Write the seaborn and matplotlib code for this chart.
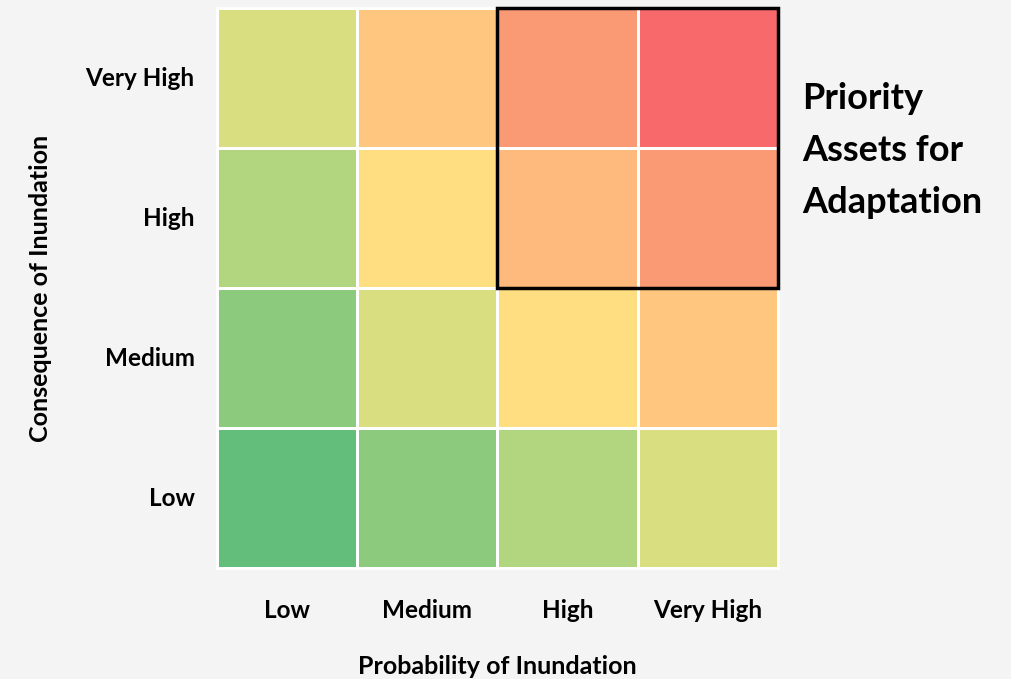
import numpy as np
import matplotlib.pyplot as plt
import seaborn as sns
from matplotlib.colors import ListedColormap, BoundaryNorm
from matplotlib.patches import Rectangle

# rows top to bottom, columns left to right
consequence = ["Very High", "High", "Medium", "Low"]
probability = ["Low", "Medium", "High", "Very High"]
consequence_score = [4, 3, 2, 1]
probability_score = [1, 2, 3, 4]

# risk score -> cell colour (green-yellow-red scale)
score_levels = [1, 2, 3, 4, 6, 8, 9, 12, 16]
score_colors = ["#63BE7B", "#8CCA7E", "#B2D580", "#D9DF81", "#FFDE81",
                "#FEC67E", "#FDBA7C", "#FA9A74", "#F8696B"]

risk = np.outer(consequence_score, probability_score)

cmap = ListedColormap(score_colors)
bounds = [score_levels[0] - 0.5] + [(a + b) / 2 for a, b in zip(score_levels[:-1], score_levels[1:])] + [score_levels[-1] + 0.5]
norm = BoundaryNorm(bounds, cmap.N)

sns.set_style("white")
plt.rcParams['font.family'] = ['Lato', 'DejaVu Sans']
plt.rcParams['text.color'] = 'black'
plt.rcParams['axes.labelcolor'] = 'black'
plt.rcParams['xtick.color'] = 'black'
plt.rcParams['ytick.color'] = 'black'

fig = plt.figure(figsize=(10.12, 6.79), dpi=100)
fig.patch.set_facecolor("#F4F4F4")
ax = fig.add_axes([0.2144, 0.1635, 0.5544, 0.8245])

sns.heatmap(risk, cmap=cmap, norm=norm, cbar=False, linewidths=2, linecolor="white",
            xticklabels=probability, yticklabels=consequence, ax=ax, square=False)

for s in ax.spines.values():
    s.set_visible(True)
    s.set_color("white")
    s.set_linewidth(2)

ax.tick_params(axis="both", length=0)
ax.tick_params(axis="x", pad=22)
ax.tick_params(axis="y", pad=16)
plt.setp(ax.get_xticklabels(), fontsize=17.5, fontweight="bold", rotation=0)
plt.setp(ax.get_yticklabels(), fontsize=17.5, fontweight="bold", rotation=0)

ax.set_xlabel("Probability of Inundation", fontsize=18, fontweight="bold", labelpad=24)
ax.set_ylabel("Consequence of Inundation", fontsize=18, fontweight="bold", labelpad=24)

# priority box around top-right quadrant
ax.add_patch(Rectangle((2, 0), 2, 2, fill=False, edgecolor="black", linewidth=2.5, clip_on=False, zorder=5))

fig.text(0.793, 0.879, "Priority\nAssets for\nAdaptation", fontsize=26, fontweight="bold",
         ha="left", va="top", linespacing=1.7)

fig.savefig("out.png", dpi=100, facecolor=fig.get_facecolor())
